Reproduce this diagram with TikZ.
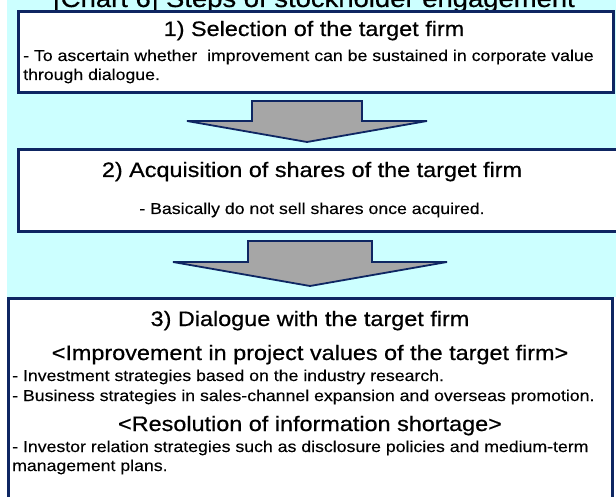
\documentclass[tikz,border=0pt]{standalone}
\usepackage{fontspec}
\setmainfont{Liberation Sans}[FakeStretch=1.12, FakeBold=0.25]
\newfontfamily\heavyfont{Liberation Sans}[FakeStretch=1.12, FakeBold=0.6]
\definecolor{skyfill}{RGB}{204,255,255}
\definecolor{navyline}{RGB}{14,38,98}
\definecolor{arrowgray}{RGB}{166,166,166}
\newcommand{\headfont}{\heavyfont\fontsize{20.9}{25}\selectfont}
\newcommand{\bodyfont}{\fontsize{15.8}{19}\selectfont}
% block arrow pointing down: x centre, y top, shaft half width, head half width, shaft height, head height
\newcommand{\flowarrow}[6]{%
  \draw[arrowbody] (#1-#3,#2) -- (#1+#3,#2) -- (#1+#3,#2+#5) -- (#1+#4,#2+#5)
    -- (#1,#2+#5+#6) -- (#1-#4,#2+#5) -- (#1-#3,#2+#5) -- cycle;}
\begin{document}
\begin{tikzpicture}[x=1pt,y=-1pt,
  stepframe/.style={draw=navyline, line width=2.6pt, fill=white, inner sep=0pt,
    anchor=north west},
  arrowbody/.style={draw=navyline, line width=1.8pt, fill=arrowgray},
  headline/.style={font=\headfont, inner sep=0pt, anchor=base},
  bodyline/.style={font=\bodyfont, inner sep=0pt, anchor=base west},
  bodymid/.style={font=\bodyfont, inner sep=0pt, anchor=base}]
\useasboundingbox (0,0) rectangle (616,497);
\fill[skyfill] (7,0) rectangle (616,297);

% chart title, running off the top edge
\node[font=\heavyfont\fontsize{24.5}{30}\selectfont, inner sep=0pt, anchor=base] (charttitle) at (314,7)
  {[Chart 6] Steps of stockholder engagement};

% step 1
\node[stepframe, minimum width=595pt, minimum height=81pt] (box1) at (17,10) {};
\node[headline] (h1) at (314,36) {1) Selection of the target firm};
\node[bodyline] (b1a) at (23,61) {- To ascertain whether \ improvement can be sustained in corporate value};
\node[bodyline] (b1b) at (23,80) {through dialogue.};

% step 2 (frame runs past the right edge)
\node[stepframe, minimum width=640pt, minimum height=82pt] (box2) at (17,148) {};
\node[headline] (h2) at (312,177) {2) Acquisition of shares of the target firm};
\node[bodymid] (b2) at (312,214) {- Basically do not sell shares once acquired.};

% step 3 (frame runs past the bottom edge)
\node[stepframe, minimum width=604pt, minimum height=240pt, line width=3pt] (box3) at (7,297) {};
\node[headline] (h3) at (310,326) {3) Dialogue with the target firm};
\node[headline] (h3a) at (310,360) {<Improvement in project values of the target firm>};
\node[bodyline] (b3a) at (12,381) {- Investment strategies based on the industry research.};
\node[bodyline] (b3b) at (12,401) {- Business strategies in sales-channel expansion and overseas promotion.};
\node[headline] (h3b) at (310,431) {<Resolution of information shortage>};
\node[bodyline] (b3c) at (12,452) {- Investor relation strategies such as disclosure policies and medium-term};
\node[bodyline] (b3d) at (12,471) {management plans.};

% arrows between the steps
\flowarrow{307}{101}{55}{120}{20}{21}
\flowarrow{310}{241}{62}{137}{21}{24}
\end{tikzpicture}
\end{document}
